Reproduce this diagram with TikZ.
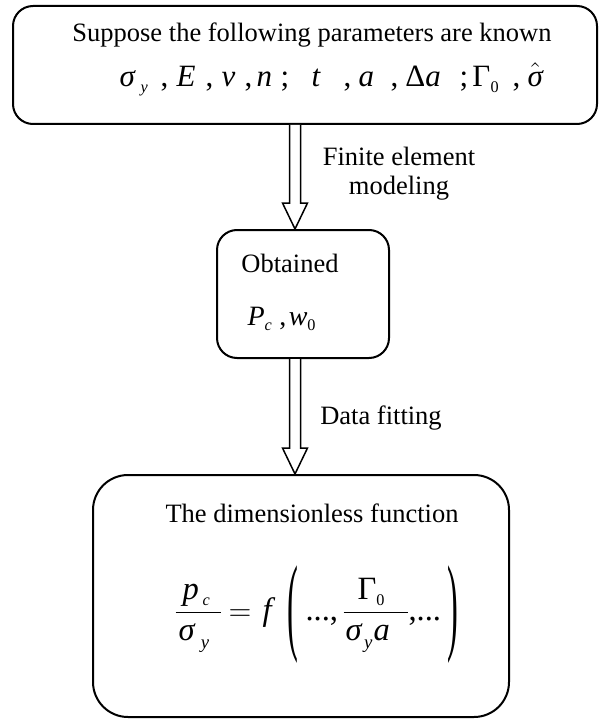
\documentclass[tikz,border=0pt]{standalone}
\usepackage{amsmath}
\usepackage{graphicx}
\usepackage{fontspec}
\setmainfont{Liberation Serif}
\usetikzlibrary{calc}
\newdimen\pxu \pxu=0.4pt
\newcommand\pl[2]{\makebox[0pt][l]{\hspace*{#1\pxu}#2}}
\newcommand\iv[1]{\text{\itshape #1}}
\newcommand\sbx[1]{\raisebox{-2.2pt}{\fontsize{6.5}{7}\selectfont #1}}
\newcommand\sby[1]{\raisebox{-3.2pt}{\fontsize{7.5}{8}\selectfont #1}}
\newcommand\bigpar[1]{\raisebox{-8pt}{\scalebox{1}[3.32]{#1}}}
\newcommand\fatarrow[2]{\draw[fat] ($(#1)+(-5.5,0)$) -- ($(#2)+(-5.5,-26)$) -- ($(#2)+(-12.5,-26)$) -- (#2) -- ($(#2)+(12.5,-26)$) -- ($(#2)+(5.5,-26)$) -- ($(#1)+(5.5,0)$);}
\tikzset{
  box/.style={draw, line width=0.8pt, inner sep=0pt},
  lbl/.style={font=\fontsize{10.6}{11.6}\selectfont, inner sep=0pt},
  fml/.style={font=\fontsize{11.2}{13}\selectfont, inner sep=0pt},
  fmlb/.style={font=\fontsize{12.4}{14}\selectfont, inner sep=0pt},
  fmlc/.style={font=\fontsize{13}{15}\selectfont, inner sep=0pt},
  fat/.style={draw, line width=0.6pt, fill=white, line join=miter},
}
\begin{document}
\begin{tikzpicture}[x=0.4pt,y=-0.4pt]
\useasboundingbox (0,0) rectangle (599,719);
% boxes
\node[box, rounded corners=8pt, minimum width=584\pxu, minimum height=118\pxu] (top) at (305,65) {};
\node[box, rounded corners=8pt, minimum width=172\pxu, minimum height=128\pxu] (mid) at (303,294) {};
\node[box, rounded corners=14pt, minimum width=416\pxu, minimum height=242\pxu] (bot) at (301,596) {};
% arrows
\coordinate (ax) at (295,0);
\coordinate (a1s) at (top.south -| ax);
\coordinate (a1e) at (mid.north -| ax);
\coordinate (a2s) at (mid.south -| ax);
\coordinate (a2e) at (bot.north -| ax);
\fatarrow{a1s}{a1e}
\fatarrow{a2s}{a2e}
% texts in top box
\node[lbl, anchor=base] (t1) at (312,42) {Suppose the following parameters are known};
\node[fmlb, anchor=base west] (t2) at (119,87) {\makebox[423\pxu][l]{%
\pl{0}{\itshape σ}\pl{21}{\sbx{\itshape y}}\pl{41}{,}\pl{57}{\itshape E}\pl{86}{,}%
\pl{102}{\itshape ν}\pl{125}{,}\pl{137}{\itshape n}\pl{161}{;}\pl{192}{\itshape t}%
\pl{224}{,}\pl{239}{\itshape a}\pl{271}{,}\pl{286}{Δ\itshape a}\pl{340}{;}%
\pl{353}{Γ}\pl{371}{\sbx{0}}\pl{393}{,}\pl{408}{$\hat{\text{\itshape σ}}$}}};
% arrow labels
\node[lbl, align=center, anchor=base] (l1) at (399,195) {Finite element\\modeling};
\node[lbl, anchor=base] (l2) at (381,424) {Data fitting};
% middle box texts
\node[lbl, anchor=base] (m1) at (290,272) {Obtained};
\node[fml, anchor=base west] (m2) at (247,325) {\itshape P\sbx{c}\hspace{3pt}\upshape ,\hspace{1pt}\itshape w\sbx{\upshape 0}};
% bottom box texts
\node[lbl, anchor=base] (b1) at (312,522) {The dimensionless function};
\node[fmlc, anchor=base west] (b2) at (175,620) {\nulldelimiterspace=0pt%
\makebox[285\pxu][l]{%
\pl{0}{$\dfrac{\makebox[45\pxu][l]{\hspace*{7\pxu}\itshape p\hspace{1.5pt}\sbx{c}}}{\makebox[45\pxu][l]{\hspace*{3\pxu}\itshape σ\hspace{2.5pt}\sby{y}}}$}%
\pl{53}{$=$}%
\pl{87}{\itshape f}%
\pl{112}{\bigpar{(}}%
\pl{130}{...,}%
\pl{168}{$\dfrac{\makebox[64\pxu][l]{\hspace*{14\pxu}Γ\sbx{0}}}{\makebox[64\pxu][l]{\hspace*{2\pxu}\itshape σ\hspace{1pt}\sby{y}\hspace{0.5pt}a}}$}%
\pl{233}{,...}%
\pl{272}{\bigpar{)}}}};
\end{tikzpicture}
\end{document}
